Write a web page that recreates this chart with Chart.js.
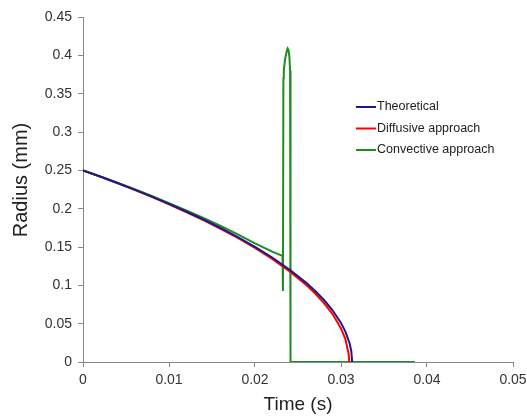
<!DOCTYPE html>
<html>
<head>
<meta charset="utf-8">
<script src="https://cdn.jsdelivr.net/npm/chart.js@4/dist/chart.umd.min.js"></script>
<style>
  html, body { margin: 0; padding: 0; background: #fff; }
  #wrap { width: 527px; height: 417px; }
</style>
</head>
<body>
<div id="wrap"><canvas id="chart" width="527" height="417"></canvas></div>
<script>
// ── Data ──────────────────────────────────────────────────
const theoT = [0, 0.002, 0.004, 0.006, 0.008, 0.010, 0.012, 0.014, 0.016, 0.018, 0.020, 0.022, 0.024, 0.026, 0.027, 0.028, 0.029, 0.030, 0.0305, 0.031, 0.0312, 0.0313];
const theoR = [0.25, 0.2419, 0.2335, 0.2248, 0.2157, 0.2062, 0.1963, 0.1859, 0.1748, 0.1630, 0.1502, 0.1363, 0.1207, 0.1029, 0.0927, 0.0812, 0.0678, 0.0510, 0.0400, 0.0245, 0.0141, 0];

const diffT = [0, 0.002, 0.004, 0.006, 0.008, 0.010, 0.012, 0.014, 0.016, 0.018, 0.020, 0.022, 0.024, 0.026, 0.027, 0.028, 0.029, 0.030, 0.0305, 0.0309, 0.03095];
const diffR = [0.25, 0.2418, 0.2333, 0.2245, 0.2153, 0.2057, 0.1957, 0.1851, 0.1738, 0.1618, 0.1487, 0.1344, 0.1185, 0.1000, 0.0893, 0.0772, 0.0628, 0.0438, 0.0302, 0.0100, 0];

const convT = [0, 0.002, 0.004, 0.006, 0.008, 0.010, 0.012, 0.014, 0.016, 0.018, 0.020, 0.022, 0.0232, 0.02325, 0.0233, 0.02335, 0.0235, 0.0237, 0.0238, 0.0239, 0.0240, 0.02408, 0.02413, 0.0386];
const convR = [0.25, 0.2420, 0.2338, 0.2253, 0.2165, 0.2073, 0.1978, 0.1880, 0.1776, 0.1665, 0.1548, 0.1440, 0.1385, 0.0925, 0.370, 0.380, 0.395, 0.406, 0.409, 0.407, 0.398, 0.380, 0, 0];

const labels = ['Theoretical', 'Diffusive approach', 'Convective approach'];
const colors = ['#1a1a8c', '#ff0000', '#1e8c1e'];
const yTitle = 'Radius (mm)';

const pts = (t, r) => t.map((x, i) => ({ x, y: r[i] }));

// legend drawn inside the plot area, right side; y title drawn a bit above centre like the original
const overlay = {
  id: 'overlay',
  afterDatasetsDraw(chart) {
    const ctx = chart.ctx;
    ctx.save();
    ctx.font = '12.5px "Liberation Sans", Arial, sans-serif';
    ctx.textBaseline = 'middle';
    ctx.fillStyle = '#222';
    chart.data.datasets.forEach((ds, i) => {
      const y = 107 + i * 21.5;
      ctx.strokeStyle = ds.borderColor;
      ctx.lineWidth = 2;
      ctx.beginPath();
      ctx.moveTo(356, y);
      ctx.lineTo(376, y);
      ctx.stroke();
      ctx.fillText(ds.label, 377, y);
    });

    ctx.translate(21, 180);
    ctx.rotate(-Math.PI / 2);
    ctx.font = '20px "Liberation Sans", Arial, sans-serif';
    ctx.textAlign = 'center';
    ctx.fillText(yTitle, 0, 0);
    ctx.restore();
  }
};

const tickFont = { family: '"Liberation Sans", Arial, sans-serif', size: 14 };
const titleFont = { family: '"Liberation Sans", Arial, sans-serif', size: 19 };

new Chart(document.getElementById('chart'), {
  type: 'scatter',
  data: {
    datasets: [
      { label: labels[0], data: pts(theoT, theoR) },
      { label: labels[1], data: pts(diffT, diffR) },
      { label: labels[2], data: pts(convT, convR) },
    ].map((d, i) => ({
      ...d, showLine: true, borderColor: colors[i], backgroundColor: colors[i],
      borderWidth: 2, pointRadius: 0, tension: 0, fill: false,
    }))
  },
  plugins: [overlay],
  options: {
    responsive: false, animation: false,
    layout: { padding: { top: 17, right: 0, left: 0, bottom: 0 } },
    plugins: { legend: { display: false }, tooltip: { enabled: false } },
    scales: {
      x: {
        type: 'linear', min: 0, max: 0.05,
        afterFit: s => { s.height = 55; s.paddingRight = 14; s.paddingLeft = 0; },
        ticks: { stepSize: 0.01, font: tickFont, color: '#333', padding: 5, maxRotation: 0,
                 callback: v => +v.toFixed(2) + '' },
        grid: { drawOnChartArea: false, drawTicks: true, tickLength: 5, color: '#888' },
        border: { color: '#888' },
        title: { display: true, text: 'Time (s)', font: titleFont, color: '#222', padding: { top: 0, bottom: 1 } },
      },
      y: {
        min: 0, max: 0.45,
        afterFit: s => { s.width = 83; },
        ticks: { stepSize: 0.05, font: tickFont, color: '#333', padding: 6,
                 callback: v => +v.toFixed(2) + '' },
        grid: { drawOnChartArea: false, drawTicks: true, tickLength: 5, color: '#888' },
        border: { color: '#888' },
        title: { display: false },
      }
    }
  }
});
</script>
</body>
</html>
